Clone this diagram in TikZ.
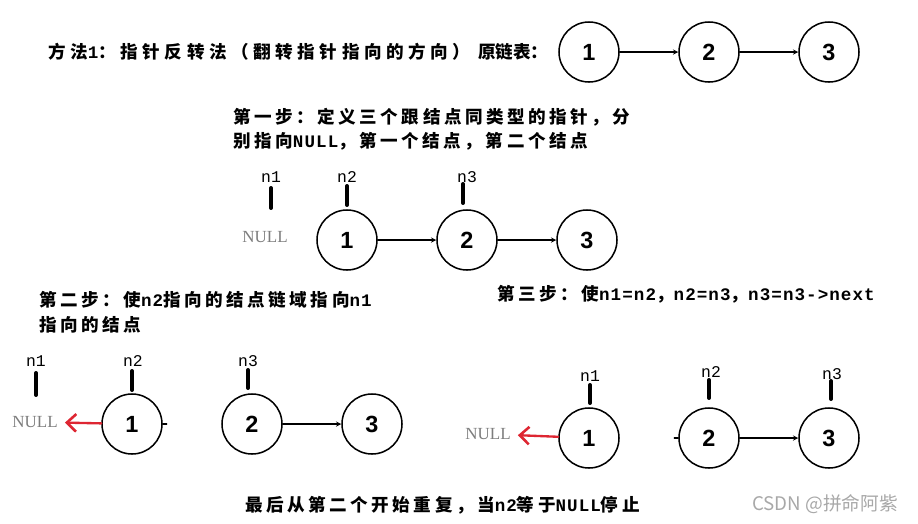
\documentclass[tikz,border=0pt]{standalone}
\usepackage{fontspec}
\setmainfont{Noto Sans CJK SC}
\newfontfamily\cjkwide[LetterSpace=20]{Noto Sans CJK SC}
\newfontfamily\cjktitle[LetterSpace=26]{Noto Sans CJK SC}
\newfontfamily\numfont{Liberation Sans}
\newfontfamily\nullfam{Liberation Serif}
\newfontfamily\ptrfont{Liberation Mono}
\newfontfamily\ascwide[LetterSpace=6]{Liberation Mono}
\newcommand{\asc}[1]{{\ascwide #1}}
\usetikzlibrary{arrows.meta}
\definecolor{nullgray}{RGB}{125,125,125}
\definecolor{revred}{RGB}{222,38,50}
\definecolor{markgray}{RGB}{168,168,168}
\tikzset{
  lnode/.style={circle,draw,line width=1.3pt,minimum size=60*0.03cm,inner sep=0pt,font=\numfont\bfseries\fontsize{20}{24}\selectfont},
  ptr/.style={font=\ptrfont\fontsize{14}{16}\selectfont,inner sep=0pt},
  ptrbar/.style={line width=3.4pt,line cap=round},
  nulltxt/.style={font=\nullfam\fontsize{14.5}{16}\selectfont,text=nullgray,inner sep=0pt},
  steptxt/.style={font=\cjkwide\bfseries\fontsize{15}{17}\selectfont,inner sep=0pt,anchor=west},
  revarrow/.style={draw=revred,line width=2pt,-{Straight Barb[length=8pt,width=15pt,line width=2.2pt]},shorten >=6pt},
  linkarrow/.style={->,line width=1pt}
}
\begin{document}
\begin{tikzpicture}[x=0.03cm,y=-0.03cm,line cap=round,line join=round,>=stealth]
\useasboundingbox (0,0) rectangle (918,523);
% original list
\node[steptxt,font=\cjktitle\bfseries\fontsize{15}{17}\selectfont] (title) at (48,52) {方法\asc{1}：指针反转法（翻转指针指向的方向）};
\node[font=\bfseries\fontsize{15}{17}\selectfont,inner sep=0pt,anchor=west] (orig) at (478,52) {原链表：};
\foreach \i/\x in {1/589,2/709,3/829} \node[lnode] (o\i) at (\x,52) {\i};
\draw[linkarrow] (o1)--(o2);
\draw[linkarrow] (o2)--(o3);
% step 1
\node[steptxt] (s1a) at (233,117) {第一步：定义三个跟结点同类型的指针，分};
\node[steptxt] (s1b) at (233,141) {别指向\asc{NULL}，第一个结点，第二个结点};
\foreach \i/\x in {1/347,2/467,3/587} \node[lnode] (a\i) at (\x,240) {\i};
\draw[linkarrow] (a1)--(a2);
\draw[linkarrow] (a2)--(a3);
\node[nulltxt] (anull) at (265,237) {NULL};
\node[ptr] (ap1) at (271,177) {n1};
\node[ptr] (ap2) at (347,177) {n2};
\node[ptr] (ap3) at (467,177) {n3};
\draw[ptrbar] (271,188)--(271,208) (347,186)--(347,205) (463,184)--(463,203);
% step 2
\node[steptxt] (s2a) at (39,300) {第二步：使\asc{n2}指向的结点链域指向\asc{n1}};
\node[steptxt] (s2b) at (39,325) {指向的结点};
\foreach \i/\x in {1/132,2/252,3/372} \node[lnode] (b\i) at (\x,424) {\i};
\draw[linkarrow] (b2)--(b3);
\draw[line width=1pt] (b1.east)--++(4,0);
\node[nulltxt] (bnull) at (35,422) {NULL};
\draw[revarrow] (b1)--(bnull);
\node[ptr] (bp1) at (36,361) {n1};
\node[ptr] (bp2) at (133,361) {n2};
\node[ptr] (bp3) at (248,361) {n3};
\draw[ptrbar] (36,373)--(36,395) (132,371)--(132,390) (248,370)--(248,388);
% step 3
\node[steptxt] (s3) at (497,294) {第三步：使\asc{n1=n2}，\asc{n2=n3}，\asc{n3=n3->next}};
\foreach \i/\x in {1/589,2/709,3/829} \node[lnode] (c\i) at (\x,438) {\i};
\draw[linkarrow] (c2)--(c3);
\draw[line width=1pt] (c2.west)--++(-4,0);
\node[nulltxt] (cnull) at (488,434) {NULL};
\draw[revarrow] (c1)--(cnull);
\node[ptr] (cp1) at (590,376) {n1};
\node[ptr] (cp2) at (711,372) {n2};
\node[ptr] (cp3) at (832,374) {n3};
\draw[ptrbar] (590,385)--(590,403) (709,380)--(709,398) (831,381)--(831,399);
% last
\node[steptxt] (fin) at (245,505) {最后从第二个开始重复，当\asc{n2}等于\asc{NULL}停止};
\node[font=\fontsize{16}{18}\selectfont,text=markgray,inner sep=0pt,anchor=west] (mark) at (752,504) {CSDN @拼命阿紫};
\end{tikzpicture}
\end{document}
